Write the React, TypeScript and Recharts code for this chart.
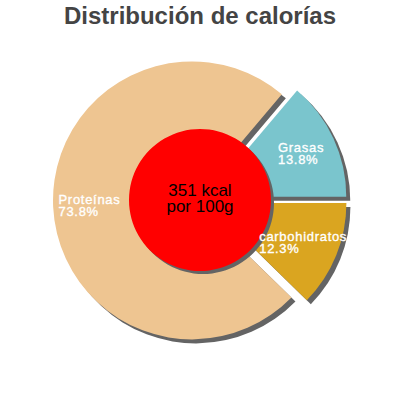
import React from 'react';
import { PieChart, Pie, Cell } from 'recharts';

const title = 'Distribución de calorías';
const categories = ['Grasas', 'Proteínas', 'carbohidratos'];
const shares = [13.8, 73.8, 12.3];
const sliceColors = ['#7ac5cd', '#eec591', '#daa520'];
const energyKcal = [351];
const centerLines = [`${energyKcal[0]} kcal`, 'por 100g'];

const data = categories.map((name, i) => ({ name, value: shares[i] }));
const centerData = [{ name: 'kcal', value: energyKcal[0] }];
const total = shares.reduce((a, b) => a + b, 0);

const CX = 200;
const CY = 200;
const R = 139;
const HOLE = 71;
const EXPLODE = 8;
const SHADOW = 4;
const SHADOW_COLOR = '#646464';
const FONT = '"Liberation Sans", Arial, sans-serif';
const LABEL_SIZE = 13;
const LABEL_SPACING = 0.7;
const RAD = Math.PI / 180;

// every slice is pushed out from the centre along its own mid angle
const midAngles = shares.map((v, i) => {
  const before = shares.slice(0, i).reduce((a, b) => a + b, 0);
  return ((before + v / 2) / total) * 360;
});
const offsets = midAngles.map((a) => ({
  dx: EXPLODE * Math.cos(a * RAD),
  dy: -EXPLODE * Math.sin(a * RAD),
}));

const measureCtx = typeof document !== 'undefined' ? document.createElement('canvas').getContext('2d') : null;
function textWidth(s: string) {
  if (!measureCtx) return s.length * 6.8;
  measureCtx.font = `${LABEL_SIZE}px ${FONT}`;
  return measureCtx.measureText(s).width + LABEL_SPACING * (s.length - 1);
}

const renderSliceLabel = (props: any) => {
  const { midAngle, index } = props;
  const dist = EXPLODE + 103;
  const x = CX + dist * Math.cos(-midAngle * RAD);
  const y = CY + dist * Math.sin(-midAngle * RAD);
  const lines = [categories[index], `${shares[index]}%`];
  const w = Math.max(...lines.map(textWidth));
  const left = x - w / 2;
  return (
    <text
      key={`lbl-${index}`}
      x={left}
      y={y - 1}
      fill="#fff"
      stroke="#fff"
      strokeWidth={0.35}
      fontSize={LABEL_SIZE}
      letterSpacing={LABEL_SPACING}
      fontFamily={FONT}
      textAnchor="start"
    >
      <tspan x={left} dy={0}>{lines[0]}</tspan>
      <tspan x={left} dy={12}>{lines[1]}</tspan>
    </text>
  );
};

const renderCenterText = () => (
  <text key="center" x={CX} y={CY - 4} fill="#000" fontSize={17} fontFamily={FONT} textAnchor="middle">
    <tspan x={CX} dy={0}>{centerLines[0]}</tspan>
    <tspan x={CX} dy={16}>{centerLines[1]}</tspan>
  </text>
);

export default function App() {
  return (
    <div style={{ position: 'absolute', left: 0, top: 0, width: 400, height: 400, background: '#fff' }}>
      <div
        style={{
          position: 'absolute',
          top: 2,
          left: 0,
          width: 400,
          textAlign: 'center',
          fontFamily: FONT,
          fontWeight: 'bold',
          fontSize: 24,
          color: '#444',
        }}
      >
        {title}
      </div>
      <PieChart width={400} height={400} margin={{ top: 0, right: 0, bottom: 0, left: 0 }}>
        {/* shadows */}
        {categories.map((_, k) => (
          <Pie
            key={`shadow-${k}`}
            data={data}
            dataKey="value"
            cx={CX + offsets[k].dx + SHADOW}
            cy={CY + offsets[k].dy + SHADOW}
            outerRadius={R}
            stroke="none"
            isAnimationActive={false}
          >
            {data.map((_, i) => (
              <Cell key={i} fill={i === k ? SHADOW_COLOR : 'transparent'} />
            ))}
          </Pie>
        ))}
        {/* slices */}
        {categories.map((_, k) => (
          <Pie
            key={`slice-${k}`}
            data={data}
            dataKey="value"
            cx={CX + offsets[k].dx}
            cy={CY + offsets[k].dy}
            outerRadius={R}
            stroke="none"
            isAnimationActive={false}
          >
            {data.map((_, i) => (
              <Cell key={i} fill={i === k ? sliceColors[i] : 'transparent'} />
            ))}
          </Pie>
        ))}
        {/* centre disc */}
        <Pie
          data={centerData}
          dataKey="value"
          cx={CX + SHADOW - 1}
          cy={CY + SHADOW - 1}
          outerRadius={HOLE}
          fill={SHADOW_COLOR}
          stroke="none"
          isAnimationActive={false}
        />
        <Pie
          data={centerData}
          dataKey="value"
          cx={CX}
          cy={CY}
          outerRadius={HOLE}
          fill="#ff0000"
          stroke="none"
          label={renderCenterText}
          labelLine={false}
          isAnimationActive={false}
        />
        {/* slice labels on top */}
        <Pie
          data={data}
          dataKey="value"
          cx={CX}
          cy={CY}
          outerRadius={R}
          fill="transparent"
          stroke="none"
          label={renderSliceLabel}
          labelLine={false}
          isAnimationActive={false}
        />
      </PieChart>
    </div>
  );
}
